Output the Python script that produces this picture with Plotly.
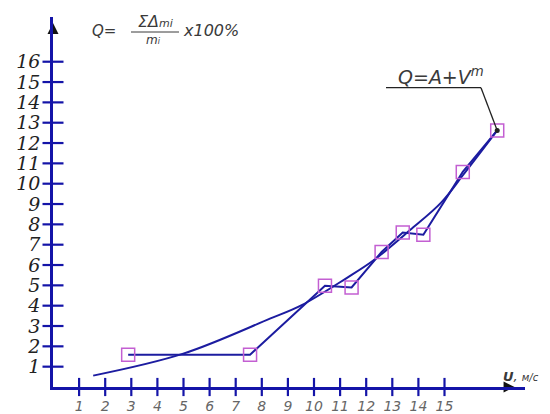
import plotly.graph_objects as go

# ---- data ----
meas_u = [2.88, 7.55, 10.42, 11.44, 12.59, 13.40, 14.19, 15.70, 17.02]
meas_q = [1.59, 1.59, 4.98, 4.90, 6.64, 7.60, 7.49, 10.58, 12.62]

fit_u = [1.54, 4.99, 8.31, 9.53, 11.25, 12.27, 13.68, 14.87, 15.72, 17.02]
fit_q = [0.56, 1.64, 3.36, 4.03, 5.36, 6.22, 7.72, 9.07, 10.44, 12.62]

x_ticks = list(range(1, 16))
y_ticks = list(range(1, 17))
x_tick_labels = [str(v) for v in x_ticks]
y_tick_labels = [str(v) for v in y_ticks]

AXIS_BLUE = "#1414a8"
LINE_BLUE = "#1c1ca0"
SQ_COLOR = "#c35fd2"

OFF = 8  # page body margin
W, H = 550 - OFF, 414 - OFF
L, R, T, B = 53 - OFF, 25, 17 - OFF, 27
PX_X = 26.1
PX_Y = 20.33
x_max = (W - L - R) / PX_X
y_max = (H - T - B) / PX_Y


def px(xp, yp):
    """convert picture pixel (page coords) to paper coords"""
    xp -= OFF
    yp -= OFF
    return (xp - L) / (W - L - R), (H - B - yp) / (H - T - B)


fig = go.Figure()

# fitted smooth curve
fig.add_trace(go.Scatter(x=fit_u, y=fit_q, mode="lines",
                         line=dict(color=LINE_BLUE, width=2, shape="spline", smoothing=1.0),
                         hoverinfo="skip", showlegend=False))
# broken line through measured points
fig.add_trace(go.Scatter(x=meas_u, y=meas_q, mode="lines",
                         line=dict(color=LINE_BLUE, width=2),
                         showlegend=False))
fig.add_trace(go.Scatter(x=meas_u, y=meas_q, mode="markers",
                         marker=dict(symbol="square-open", size=13,
                                     line=dict(color=SQ_COLOR, width=1.5), color=SQ_COLOR),
                         showlegend=False))

# cross tick marks
fig.add_trace(go.Scatter(x=[0] * len(y_ticks), y=y_ticks, mode="markers", cliponaxis=False,
                         marker=dict(symbol="line-ew", size=15,
                                     line=dict(color=AXIS_BLUE, width=2.2)),
                         hoverinfo="skip", showlegend=False))
fig.add_trace(go.Scatter(x=x_ticks, y=[0] * len(x_ticks), mode="markers", cliponaxis=False,
                         marker=dict(symbol="line-ns", size=13,
                                     line=dict(color=AXIS_BLUE, width=2.2)),
                         hoverinfo="skip", showlegend=False))

# axis arrowheads
fig.add_trace(go.Scatter(x=[0], y=[y_max - 0.3], mode="markers", cliponaxis=False,
                         marker=dict(symbol="arrow-up", size=11, color="#111"),
                         hoverinfo="skip", showlegend=False))
fig.add_trace(go.Scatter(x=[x_max - 0.4], y=[0], mode="markers", cliponaxis=False,
                         marker=dict(symbol="arrow-right", size=11, color="#111"),
                         hoverinfo="skip", showlegend=False))

# leader line for Q=A+V^m
ux0, uy = (386 - 53) / PX_X, (387 - 87.7) / PX_Y
ux1 = (481 - 53) / PX_X
fig.add_shape(type="line", x0=ux0, x1=ux1, y0=uy, y1=uy, line=dict(color="#222", width=1.3))
fig.add_shape(type="line", x0=ux1, y0=uy, x1=meas_u[-1], y1=meas_q[-1],
              line=dict(color="#222", width=1.3))
fig.add_trace(go.Scatter(x=[meas_u[-1]], y=[meas_q[-1]], mode="markers",
                         marker=dict(color="#222", size=5), showlegend=False, cliponaxis=False))

ann = []
FORM_FONT = dict(family="DejaVu Sans", color="#3a3a3a", style="italic")


def txt(xp, yp, text, size, **kw):
    x, y = px(xp, yp)
    d = dict(x=x, y=y, xref="paper", yref="paper", text=text, showarrow=False,
             font=dict(FORM_FONT, size=size), xanchor="center", yanchor="middle")
    d.update(kw)
    ann.append(d)


txt(441, 76, "Q=A+V<sup>m</sup>", 19)
txt(104, 31, "Q=", 15)
txt(155, 21, "ΣΔ<span style='font-size:11px'>mi</span>", 16)
txt(153, 40, "m<span style='font-size:8px'>i</span>", 12)
txt(211, 31, "x100%", 16)
txt(521, 376, "<b>U</b>, <span style='font-size:10px'>м/с</span>", 13)
fig.update_layout(annotations=ann)

fx0, fy = px(131, 32)
fx1, _ = px(179, 32)
fig.add_shape(type="line", xref="paper", yref="paper", x0=fx0, x1=fx1, y0=fy, y1=fy,
              line=dict(color="#3a3a3a", width=1))

fig.update_layout(
    width=W, height=H,
    margin=dict(l=L, r=R, t=T, b=B, pad=0),
    paper_bgcolor="white", plot_bgcolor="white",
    showlegend=False,
    xaxis=dict(range=[0, x_max], showline=True, linecolor=AXIS_BLUE, linewidth=2.5,
               showgrid=False, zeroline=False, ticks="",
               tickmode="array", tickvals=x_ticks, ticktext=x_tick_labels,
               tickfont=dict(family="DejaVu Sans", size=14, color="#666", style="italic"),
               ticklabelstandoff=4, automargin=False, fixedrange=True),
    yaxis=dict(range=[0, y_max], showline=True, linecolor=AXIS_BLUE, linewidth=2.5,
               showgrid=False, zeroline=False, ticks="",
               tickmode="array", tickvals=y_ticks, ticktext=y_tick_labels,
               tickfont=dict(family="DejaVu Serif", size=19, color="#222", style="italic"),
               ticklabelstandoff=6, automargin=False, fixedrange=True),
)

fig.write_html("out.html")
